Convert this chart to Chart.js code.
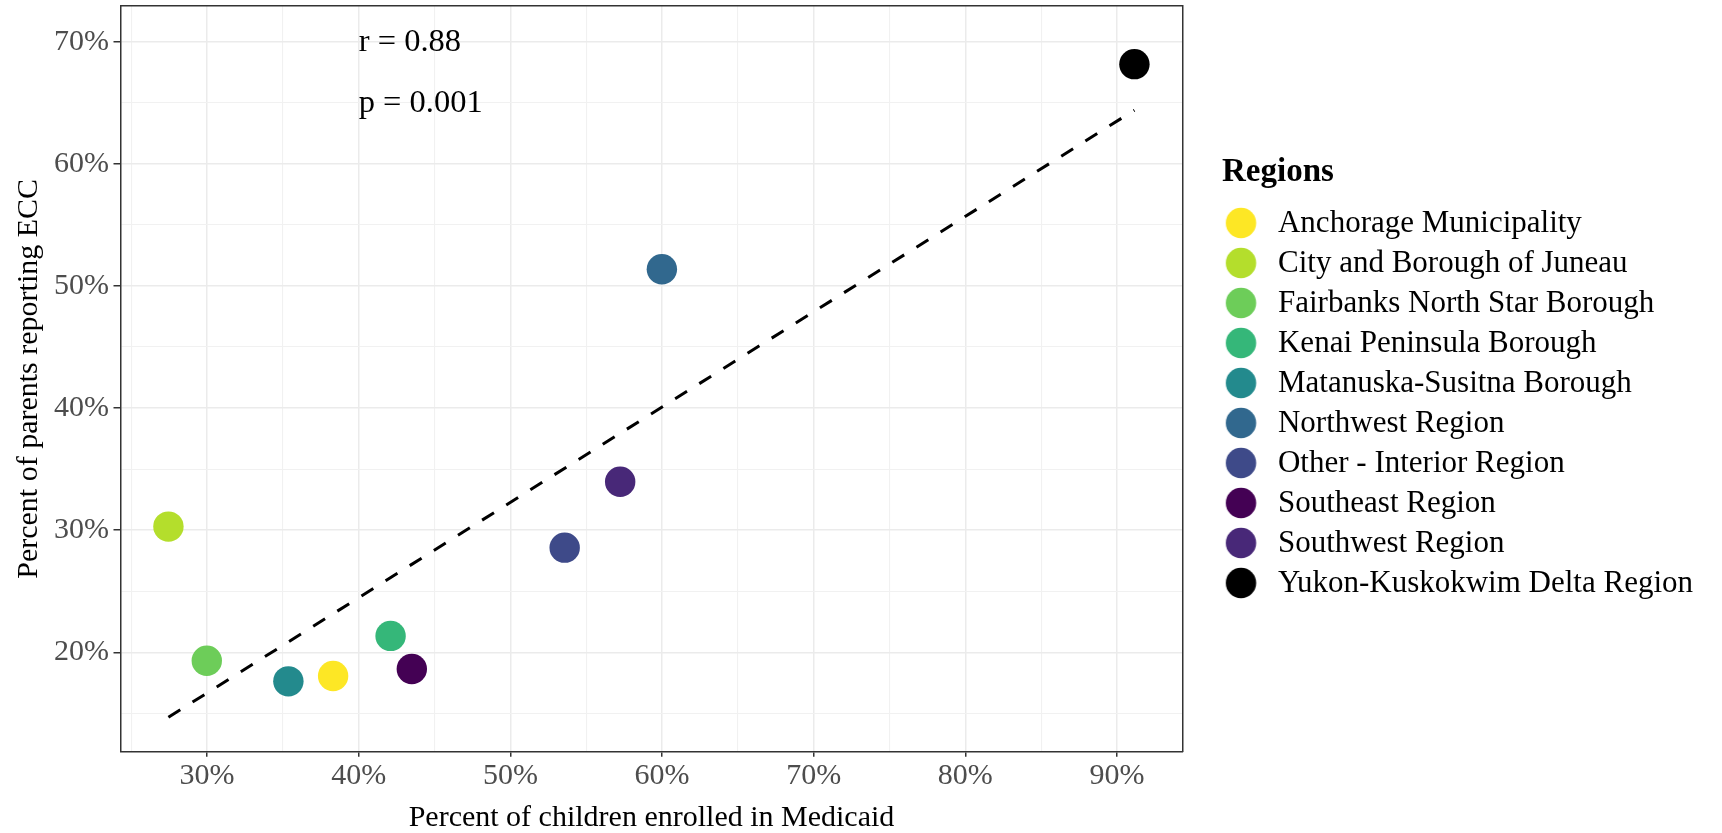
<!DOCTYPE html>
<html>
<head>
<meta charset="utf-8">
<title>Medicaid enrollment and ECC by region</title>
<script src="https://cdn.jsdelivr.net/npm/chart.js@4/dist/chart.umd.min.js"></script>
<style>
  html, body { margin: 0; padding: 0; background: #ffffff; }
  #wrap { width: 1722px; height: 833px; }
</style>
</head>
<body>
<div id="wrap"><canvas id="chart" width="1722" height="833"></canvas></div>
<script>
// Regions (legend order) and their values
const regions = [
  'Anchorage Municipality',
  'City and Borough of Juneau',
  'Fairbanks North Star Borough',
  'Kenai Peninsula Borough',
  'Matanuska-Susitna Borough',
  'Northwest Region',
  'Other - Interior Region',
  'Southeast Region',
  'Southwest Region',
  'Yukon-Kuskokwim Delta Region'
];
// Percent of children enrolled in Medicaid
const medicaidPct = [38.31, 27.45, 29.98, 42.10, 35.36, 59.99, 53.58, 43.50, 57.24, 91.15];
// Percent of parents reporting ECC
const eccPct = [18.06, 30.29, 19.31, 21.34, 17.62, 51.37, 28.57, 18.63, 33.97, 68.16];
const regionColors = ['#FDE725', '#B4DE2C', '#6DCD59', '#35B779', '#238A8D', '#31688E', '#3E4A89', '#440154', '#482878', '#000000'];

// Linear fit line endpoints
const trendX = [27.45, 91.15];
const trendY = [14.68, 64.39];

// Axis ticks (every 5%, labelled every 10%)
const xTickValues = [25, 30, 35, 40, 45, 50, 55, 60, 65, 70, 75, 80, 85, 90];
const yTickValues = [15, 20, 25, 30, 35, 40, 45, 50, 55, 60, 65, 70];

// Correlation annotation
const statText = ['r = 0.88', 'p = 0.001'];
const statX = [40, 40];
const statY = [70, 65];

const SERIF = '"Liberation Serif", "Times New Roman", serif';
Chart.defaults.font.family = SERIF;

const isMajor = v => v % 10 === 0;
const gridColor = c => (c.tick && isMajor(c.tick.value)) ? '#EBEBEB' : '#F1F1F1';
const gridWidth = c => (c.tick && isMajor(c.tick.value)) ? 1.5 : 1.1;
const tickMarkColor = c => (c.tick && isMajor(c.tick.value)) ? '#333333' : 'rgba(0,0,0,0)';
const pctLabel = v => isMajor(v) ? v + '%' : '';

// Legend dots: small canvases so the swatch sits where the key column expects it
const legendDots = regionColors.map(col => {
  const c = document.createElement('canvas');
  c.width = 48; c.height = 34;
  const g = c.getContext('2d');
  g.fillStyle = col;
  g.beginPath();
  g.arc(18.25, 16, 15.2, 0, Math.PI * 2);
  g.fill();
  return c;
});

const regionDatasets = regions.map((name, i) => ({
  type: 'scatter',
  label: name,
  data: [{ x: medicaidPct[i], y: eccPct[i] }],
  backgroundColor: regionColors[i],
  borderColor: regionColors[i],
  borderWidth: 0,
  pointRadius: 15.2,
  pointHoverRadius: 15.2
}));

const trendDataset = {
  type: 'line',
  label: 'Linear fit',
  data: trendX.map((x, i) => ({ x: x, y: trendY[i] })),
  borderColor: '#000000',
  borderWidth: 3,
  borderDash: [14, 14.5],
  borderCapStyle: 'butt',
  pointRadius: 0,
  fill: false,
  showLine: true
};

// Text annotations placed through the data scales
const statLabels = {
  id: 'statLabels',
  afterDatasetsDraw(chart) {
    const { ctx, scales } = chart;
    ctx.save();
    ctx.font = '32.5px ' + SERIF;
    ctx.fillStyle = '#000000';
    ctx.textAlign = 'left';
    ctx.textBaseline = 'middle';
    statText.forEach((t, i) => {
      ctx.fillText(t, scales.x.getPixelForValue(statX[i]), scales.y.getPixelForValue(statY[i]) + 1);
    });
    ctx.restore();
  }
};

new Chart(document.getElementById('chart'), {
  type: 'scatter',
  data: { datasets: [...regionDatasets, trendDataset] },
  options: {
    responsive: false,
    animation: false,
    events: [],
    layout: { autoPadding: false, padding: { top: 6, left: 0, right: 19, bottom: 0 } },
    scales: {
      x: {
        type: 'linear',
        position: 'bottom',
        min: 24.29,
        max: 94.32,
        afterBuildTicks: s => { s.ticks = xTickValues.map(v => ({ value: v })); },
        afterFit: s => { s.height = 81.3; s.paddingLeft = 0; s.paddingRight = 0; },
        ticks: {
          callback: pctLabel,
          autoSkip: false,
          maxRotation: 0,
          color: '#4D4D4D',
          padding: 4.5,
          font: { size: 30, lineHeight: 1 }
        },
        grid: { color: gridColor, lineWidth: gridWidth, tickColor: tickMarkColor, tickLength: 5, tickWidth: 1.5 },
        border: { display: true, color: '#333333', width: 1.5 },
        title: {
          display: true,
          text: 'Percent of children enrolled in Medicaid',
          color: '#000000',
          font: { size: 30, lineHeight: 1 },
          padding: { top: 0, bottom: 0 }
        }
      },
      y: {
        type: 'linear',
        position: 'left',
        min: 11.86,
        max: 72.92,
        afterBuildTicks: s => { s.ticks = yTickValues.map(v => ({ value: v })); },
        afterFit: s => { s.width = 120.5; s.paddingTop = 0; s.paddingBottom = 0; },
        ticks: {
          callback: pctLabel,
          autoSkip: false,
          color: '#4D4D4D',
          padding: 4.5,
          font: { size: 30, lineHeight: 1 }
        },
        grid: { color: gridColor, lineWidth: gridWidth, tickColor: tickMarkColor, tickLength: 7, tickWidth: 1.5 },
        border: { display: true, color: '#333333', width: 1.5 },
        title: {
          display: true,
          text: 'Percent of parents reporting ECC',
          color: '#000000',
          font: { size: 30, lineHeight: 1 },
          padding: { top: 14, bottom: 0 }
        }
      },
      // frame edges (top and right) of the panel
      xTop: {
        type: 'linear',
        position: 'top',
        min: 0, max: 1,
        grid: { display: false },
        ticks: { display: false },
        border: { display: true, color: '#333333', width: 1.5 },
        afterFit: s => { s.height = 0; s.paddingLeft = 0; s.paddingRight = 0; }
      },
      yRight: {
        type: 'linear',
        position: 'right',
        min: 0, max: 1,
        grid: { display: false },
        ticks: { display: false },
        border: { display: true, color: '#333333', width: 1.5 },
        afterFit: s => { s.width = 39.5; s.paddingTop = 0; s.paddingBottom = 0; }
      }
    },
    plugins: {
      tooltip: { enabled: false },
      legend: {
        position: 'right',
        align: 'start',
        maxWidth: 700,
        title: {
          display: true,
          text: 'Regions',
          color: '#000000',
          position: 'start',
          font: { size: 33, weight: 'bold', lineHeight: 1 },
          padding: { top: 150, bottom: 10.5 }
        },
        labels: {
          usePointStyle: true,
          pointStyleWidth: 31.5,
          padding: 9,
          color: '#000000',
          font: { size: 31 },
          filter: item => item.datasetIndex < regions.length,
          generateLabels: chart =>
            Chart.defaults.plugins.legend.labels.generateLabels(chart).map(item =>
              Object.assign(item, { pointStyle: legendDots[item.datasetIndex], lineWidth: 0 }))
        }
      }
    }
  },
  plugins: [statLabels]
});
</script>
</body>
</html>
